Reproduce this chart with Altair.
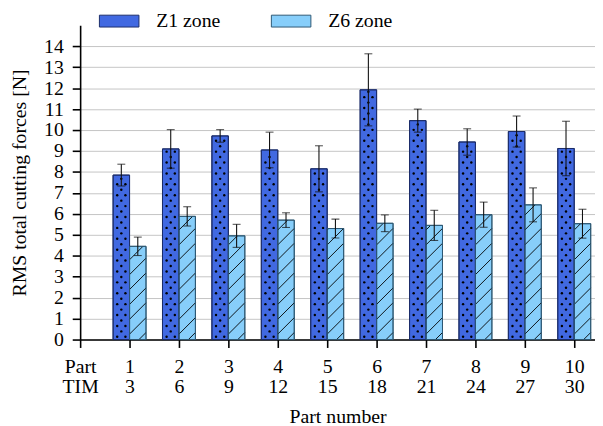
import altair as alt
import pandas as pd

parts = [1, 2, 3, 4, 5, 6, 7, 8, 9, 10]
tim = [3, 6, 9, 12, 15, 18, 21, 24, 27, 30]
series_names = ["Z1 zone", "Z6 zone"]
z1_mean = [7.85, 9.1, 9.72, 9.05, 8.15, 11.92, 10.45, 9.43, 9.93, 9.12]
z1_err = [0.52, 0.92, 0.3, 0.85, 1.1, 1.72, 0.55, 0.63, 0.74, 1.3]
z6_mean = [4.45, 5.88, 4.95, 5.7, 5.3, 5.55, 5.45, 5.96, 6.43, 5.53]
z6_err = [0.44, 0.46, 0.55, 0.35, 0.45, 0.4, 0.72, 0.6, 0.81, 0.69]

fills = ["#4169e1", "#87cefa"]
strokes = ["#1b2d6b", "#2e5874"]
FONT = "Liberation Serif"
FS = 20

rows = []
for i, p in enumerate(parts):
    rows.append({"part": p, "tim": tim[i], "series": series_names[0], "value": z1_mean[i], "err": z1_err[i]})
    rows.append({"part": p, "tim": tim[i], "series": series_names[1], "value": z6_mean[i], "err": z6_err[i]})
df = pd.DataFrame(rows)

BW = 1 / 3  # bar width in x units
base = alt.Chart(df).transform_calculate(
    x0="datum.series == 'Z1 zone' ? datum.part - %f : datum.part" % BW,
    x1="datum.series == 'Z1 zone' ? datum.part : datum.part + %f" % BW,
    lo="datum.value - datum.err",
    hi="datum.value + datum.err",
)

xscale = alt.Scale(domain=[0, 10.42], nice=False, zero=False)
yscale = alt.Scale(domain=[0, 15], nice=False)

xaxis = alt.Axis(
    values=list(range(11)),
    labelExpr="datum.value == 0 ? ['Part', 'TIM'] : [datum.label, '' + (3 * datum.value)]",
    labelFlush=False, labelOverlap=False, grid=False,
    tickSize=8, labelPadding=9, labelLineHeight=21, labelBaseline="top",
    title="Part number", titlePadding=10,
)
yaxis = alt.Axis(
    values=list(range(15)), tickCount=15,
    labelOverlap=False, labelFlush=False, grid=True,
    tickSize=8, labelPadding=9,
    title="RMS total cutting forces [N]", titlePadding=14,
)

def X(f):
    return alt.X(f, scale=xscale, axis=xaxis)

def Y(f):
    return alt.Y(f, scale=yscale, axis=yaxis)

stroke_enc = alt.Stroke("series:N", scale=alt.Scale(domain=series_names, range=strokes), legend=None)

bars = base.mark_rect(strokeWidth=1).encode(
    x=X("x0:Q"),
    x2="x1:Q",
    y=Y("value:Q"),
    y2=alt.datum(0),
    fill=alt.Fill(
        "series:N",
        scale=alt.Scale(domain=series_names, range=fills),
        legend=alt.Legend(
            title=None, orient="none", direction="horizontal",
            legendX=29, legendY=-15,
            symbolType="M-2,-0.6H2V0.6H-2Z", symbolSize=400,
            labelOffset=27, columnPadding=49,
            labelFont=FONT, labelFontSize=FS,
        ),
    ),
    stroke=stroke_enc,
)

# dotted texture for Z1 bars
ROW = 0.26
dots = base.transform_filter("datum.series == 'Z1 zone'").transform_calculate(
    r="sequence(0, ceil(datum.value / %f))" % ROW
).transform_flatten(["r"]).transform_calculate(
    c="[0, 1]"
).transform_flatten(["c"]).transform_filter(
    "datum.r % 2 == 0 || datum.c == 0"
).transform_calculate(
    dy="(datum.r + 0.5) * %f" % ROW,
    dx="datum.x0 + (datum.r % 2 == 0 ? (datum.c == 0 ? 0.25 : 0.75) : 0.5) * " + str(BW),
).transform_filter("datum.dy < datum.value - 0.08").mark_circle(
    size=6, color="black", opacity=1
).encode(
    x=X("dx:Q"),
    y=Y("dy:Q"),
)

# north-east hatch for Z6 bars
RISE = 0.786  # rise across a bar width, in y units (45 degrees)
SP = 0.71
hatch = base.transform_filter("datum.series == 'Z6 zone'").transform_calculate(
    k="sequence(0, ceil(datum.value / %f) + 2)" % SP
).transform_flatten(["k"]).transform_calculate(
    b="datum.k * %f - 0.45" % SP
).transform_filter(
    "datum.b < datum.value && datum.b + %f > 0" % RISE
).transform_calculate(
    xs="datum.b < 0 ? datum.x0 + (-datum.b / %f) * %f : datum.x0" % (RISE, BW),
    ys="max(datum.b, 0)",
    xe="datum.b + %f > datum.value ? datum.x0 + ((datum.value - datum.b) / %f) * %f : datum.x1" % (RISE, RISE, BW),
    ye="min(datum.b + %f, datum.value)" % RISE,
).mark_rule(color="black", strokeWidth=0.9).encode(
    x=X("xs:Q"),
    x2="xe:Q",
    y=Y("ys:Q"),
    y2="ye:Q",
)

outline = base.mark_rect(fillOpacity=0, strokeWidth=1).encode(
    x=X("x0:Q"),
    x2="x1:Q",
    y=Y("value:Q"),
    y2=alt.datum(0),
    stroke=stroke_enc,
)

base_err = base.transform_calculate(xm="(datum.x0 + datum.x1) / 2")
err_rule = base_err.mark_rule(color="#111111", strokeWidth=1.1).encode(
    x=X("xm:Q"),
    y=Y("lo:Q"),
    y2="hi:Q",
)
cap_lo = base_err.mark_tick(orient="horizontal", color="#111111", thickness=1.1, size=8).encode(
    x=X("xm:Q"),
    y=Y("lo:Q"),
)
cap_hi = base_err.mark_tick(orient="horizontal", color="#111111", thickness=1.1, size=8).encode(
    x=X("xm:Q"),
    y=Y("hi:Q"),
)

chart = alt.layer(bars, dots, hatch, outline, err_rule, cap_lo, cap_hi).properties(
    width=521, height=318, padding={"left": 2, "top": 0, "right": 0, "bottom": 0},
    background="white",
).configure(font=FONT).configure_view(stroke=None).configure_axis(
    labelFont=FONT, labelFontSize=FS, labelColor="black",
    titleFont=FONT, titleFontSize=FS, titleFontWeight="normal", titleColor="black",
    tickWidth=1.6, tickColor="black", domainColor="black", domainWidth=1.6,
    gridColor="#c4c4c4", gridWidth=1,
).configure_legend(
    labelFont=FONT, labelFontSize=FS, labelColor="black",
    symbolStrokeColor="black", symbolStrokeWidth=1, symbolOpacity=1,
)

chart.save("out.html", embed_options={"renderer": "svg", "actions": False})
